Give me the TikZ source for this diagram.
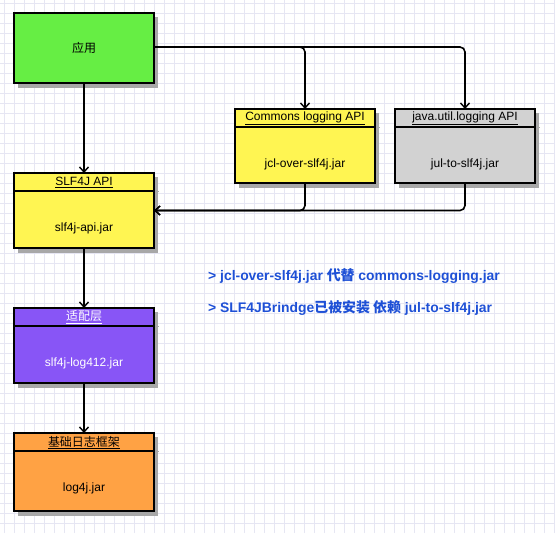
\documentclass[tikz,border=0pt]{standalone}
\usepackage{fontspec}
\setmainfont{Liberation Sans}
\newfontfamily\cjk{Noto Sans CJK SC}
\newfontfamily\cjkb{Noto Sans CJK SC Bold}
\usetikzlibrary{arrows.meta}
\definecolor{gridc}{HTML}{E6E6F3}
\definecolor{appg}{HTML}{66EE44}
\definecolor{yel}{HTML}{FFF552}
\definecolor{grayb}{HTML}{D2D2D2}
\definecolor{purp}{HTML}{8855F6}
\definecolor{orng}{HTML}{FFA244}
\definecolor{shad}{HTML}{A8A8A8}
\definecolor{bluet}{HTML}{1E50D6}
\tikzset{
  box/.style={draw=black, line width=2pt, minimum width=140pt, inner sep=0pt, outer sep=0pt},
  conn/.style={draw=black, line width=1.6pt, rounded corners=5pt},
  arr/.style={conn, -{Straight Barb[length=5pt,width=9pt,line width=1.4pt]}},
  lab/.style={font=\fontsize{12}{14}\selectfont, inner sep=0pt},
  note/.style={font=\fontsize{13.9}{16}\selectfont\bfseries, text=bluet, anchor=west, inner sep=0pt},
}
\newcommand{\umbox}[9]{%
  % #1 name, #2 x-left, #3 y-top, #4 height, #5 fill, #6 header, #7 body, #8 text colour, #9 divider offset
  \fill[shad] (#2+4,#3+4) rectangle (#2+144,#3+#4+5);
  \draw[shad, line width=0.8pt] (#2+140,#3+#9) -- (#2+145,#3+#9);
  \node[box, fill=#5, minimum height=#4pt, anchor=north west] (#1) at (#2,#3) {};
  \draw[line width=2pt] (#2,#3+#9) -- (#2+140,#3+#9);
  \node[lab, text=#8] (#1h) at (#2+70,#3+9.5) {\underline{#6}};
  \node[lab, text=#8] (#1b) at (#2+70,#3+#9+37) {#7};
}
\begin{document}
\begin{tikzpicture}[x=1pt,y=-1pt]
\useasboundingbox (0,0) rectangle (555,533);
\fill[white] (0,0) rectangle (555,533);
\foreach \i in {0,...,55} {\draw[gridc, line width=0.9pt] (4+10*\i,0) -- (4+10*\i,533);}
\foreach \j in {0,...,53} {\draw[gridc, line width=0.9pt] (0,3+10*\j) -- (555,3+10*\j);}

% application box
\fill[shad] (18,17) rectangle (158,88);
\node[box, fill=appg, minimum height=70pt, anchor=north west] (app) at (14,13) {};
\node[lab, font=\cjk\fontsize{12}{14}\selectfont] (appt) at (app.center) {应用};

\umbox{slf}{14}{173}{75}{yel}{SLF4J API}{slf4j-api.jar}{black}{18}
\umbox{jcl}{235}{109}{74}{yel}{Commons logging API}{jcl-over-slf4j.jar}{black}{18}
\umbox{jul}{395}{109}{74}{grayb}{java.util.logging API}{jul-to-slf4j.jar}{black}{18}
\umbox{adp}{14}{308}{75}{purp}{{\cjk 适配层}}{slf4j-log412.jar}{white}{18}
\umbox{base}{14}{433}{78}{orng}{{\cjk 基础日志框架}}{log4j.jar}{black}{18}

% connectors
\draw[arr] (app.south) -- (slf.north);
\draw[arr] ([yshift=1pt]app.east) -| (jcl.north);
\draw[arr] ([yshift=1pt]app.east) -| (jul.north);
\draw[arr] (jcl.south) |- (slf.east);
\draw[arr] (jul.south) |- (slf.east);
\draw[arr] (slf.south) -- (adp.north);
\draw[arr] (adp.south) -- (base.north);

% notes
\node[note] (n1) at (208,276) {> jcl-over-slf4j.jar {\cjkb 代替} commons-logging.jar};
\node[note] (n2) at (208,308) {> SLF4JBrindge{\cjkb 已被安装 依赖} jul-to-slf4j.jar};
\end{tikzpicture}
\end{document}
